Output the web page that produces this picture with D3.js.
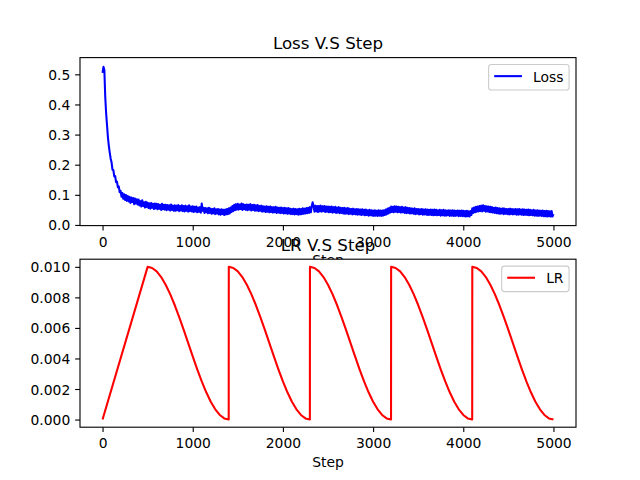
<!DOCTYPE html>
<html>
<head>
<meta charset="utf-8">
<script src="https://cdn.jsdelivr.net/npm/d3@7"></script>
<style>
  html, body { margin: 0; padding: 0; background: #fff; }
  svg { display: block; font-family: "DejaVu Sans", sans-serif; }
</style>
</head>
<body>
<svg id="chart" width="640" height="480"></svg>
<script>
// ---------------- DATA ----------------
const lossStepInterval = 10;
const lossValues = [
  0.505, 0.525, 0.515, 0.425, 0.370, 0.330, 0.290, 0.262, 0.240, 0.220,
  0.208, 0.184, 0.182, 0.161, 0.162, 0.142, 0.144, 0.125, 0.128, 0.109,
  0.113, 0.094, 0.106, 0.087, 0.102, 0.083, 0.099, 0.080, 0.096, 0.078,
  0.093, 0.073, 0.091, 0.076, 0.089, 0.069, 0.088, 0.071, 0.085, 0.068,
  0.084, 0.065, 0.079, 0.061, 0.082, 0.063, 0.075, 0.058, 0.077, 0.060,
  0.074, 0.056, 0.072, 0.054, 0.073, 0.057, 0.070, 0.053, 0.071, 0.055,
  0.070, 0.052, 0.069, 0.054, 0.067, 0.050, 0.070, 0.052, 0.067, 0.051,
  0.067, 0.049, 0.066, 0.051, 0.065, 0.048, 0.068, 0.050, 0.064, 0.047,
  0.065, 0.047, 0.064, 0.049, 0.066, 0.046, 0.063, 0.048, 0.065, 0.046,
  0.063, 0.045, 0.064, 0.047, 0.062, 0.044, 0.065, 0.046, 0.061, 0.045,
  0.062, 0.043, 0.060, 0.045, 0.061, 0.042, 0.058, 0.044, 0.059, 0.041,
  0.071, 0.047, 0.057, 0.040, 0.056, 0.042, 0.055, 0.039, 0.057, 0.040,
  0.054, 0.037, 0.053, 0.039, 0.055, 0.036, 0.052, 0.038, 0.053, 0.035,
  0.051, 0.034, 0.052, 0.036, 0.050, 0.033, 0.051, 0.035, 0.053, 0.036,
  0.055, 0.038, 0.058, 0.043, 0.063, 0.046, 0.067, 0.049, 0.069, 0.051,
  0.070, 0.051, 0.068, 0.053, 0.071, 0.050, 0.069, 0.052, 0.067, 0.050,
  0.068, 0.049, 0.067, 0.051, 0.069, 0.048, 0.066, 0.050, 0.067, 0.047,
  0.065, 0.048, 0.066, 0.046, 0.063, 0.047, 0.064, 0.044, 0.062, 0.045,
  0.061, 0.043, 0.062, 0.044, 0.060, 0.042, 0.061, 0.043, 0.059, 0.041,
  0.059, 0.042, 0.060, 0.040, 0.058, 0.041, 0.057, 0.039, 0.058, 0.040,
  0.056, 0.038, 0.057, 0.039, 0.055, 0.037, 0.056, 0.038, 0.054, 0.036,
  0.053, 0.036, 0.054, 0.035, 0.053, 0.036, 0.052, 0.034, 0.054, 0.035,
  0.053, 0.036, 0.055, 0.037, 0.054, 0.038, 0.056, 0.039, 0.057, 0.040,
  0.059, 0.042, 0.063, 0.075, 0.061, 0.044, 0.064, 0.045, 0.063, 0.043,
  0.063, 0.045, 0.064, 0.044, 0.062, 0.046, 0.063, 0.043, 0.061, 0.044,
  0.061, 0.042, 0.060, 0.043, 0.061, 0.041, 0.059, 0.042, 0.060, 0.040,
  0.058, 0.041, 0.059, 0.039, 0.057, 0.040, 0.056, 0.038, 0.057, 0.037,
  0.055, 0.038, 0.056, 0.036, 0.054, 0.037, 0.053, 0.035, 0.054, 0.036,
  0.052, 0.035, 0.053, 0.034, 0.052, 0.035, 0.051, 0.033, 0.052, 0.034,
  0.050, 0.032, 0.051, 0.033, 0.049, 0.031, 0.050, 0.032, 0.049, 0.031,
  0.048, 0.030, 0.049, 0.031, 0.047, 0.030, 0.049, 0.031, 0.048, 0.030,
  0.048, 0.031, 0.049, 0.033, 0.051, 0.035, 0.054, 0.038, 0.057, 0.041,
  0.061, 0.043, 0.060, 0.042, 0.062, 0.044, 0.061, 0.042, 0.060, 0.043,
  0.059, 0.041, 0.060, 0.042, 0.058, 0.040, 0.059, 0.039, 0.057, 0.040,
  0.056, 0.038, 0.055, 0.039, 0.054, 0.037, 0.055, 0.036, 0.053, 0.037,
  0.053, 0.035, 0.052, 0.036, 0.053, 0.034, 0.051, 0.035, 0.052, 0.034,
  0.051, 0.033, 0.050, 0.034, 0.051, 0.033, 0.050, 0.032, 0.051, 0.033,
  0.050, 0.032, 0.049, 0.033, 0.050, 0.031, 0.049, 0.032, 0.050, 0.031,
  0.049, 0.031, 0.048, 0.032, 0.049, 0.030, 0.048, 0.031, 0.049, 0.030,
  0.048, 0.030, 0.047, 0.031, 0.048, 0.029, 0.047, 0.030, 0.048, 0.029,
  0.047, 0.029, 0.046, 0.028, 0.047, 0.029, 0.045, 0.028, 0.046, 0.033,
  0.055, 0.040, 0.058, 0.042, 0.060, 0.044, 0.061, 0.045, 0.063, 0.046,
  0.064, 0.045, 0.065, 0.047, 0.063, 0.044, 0.062, 0.045, 0.061, 0.043,
  0.060, 0.042, 0.059, 0.041, 0.057, 0.040, 0.058, 0.039, 0.056, 0.038,
  0.055, 0.037, 0.054, 0.038, 0.055, 0.036, 0.054, 0.037, 0.053, 0.036,
  0.053, 0.035, 0.054, 0.036, 0.053, 0.035, 0.052, 0.036, 0.053, 0.034,
  0.052, 0.034, 0.053, 0.035, 0.051, 0.034, 0.052, 0.033, 0.051, 0.034,
  0.050, 0.033, 0.051, 0.032, 0.050, 0.033, 0.049, 0.032, 0.050, 0.031,
  0.048, 0.031, 0.049, 0.030, 0.048, 0.031, 0.047, 0.030, 0.048, 0.029,
  0.046, 0.029, 0.047, 0.028, 0.046, 0.029, 0.045, 0.028, 0.046, 0.028,
  0.036
];

// Learning rate: warmup then cosine restarts
const lrSteps = [
  0, 500, 550, 600, 650, 700, 750, 800, 850, 900, 950, 1000, 1050, 1100, 1150, 1200, 1250, 1300, 1350, 1399,
  1400, 1450, 1500, 1550, 1600, 1650, 1700, 1750, 1800, 1850, 1900, 1950, 2000, 2050, 2100, 2150, 2200, 2250, 2299,
  2300, 2350, 2400, 2450, 2500, 2550, 2600, 2650, 2700, 2750, 2800, 2850, 2900, 2950, 3000, 3050, 3100, 3150, 3199,
  3200, 3250, 3300, 3350, 3400, 3450, 3500, 3550, 3600, 3650, 3700, 3750, 3800, 3850, 3900, 3950, 4000, 4050, 4099,
  4100, 4150, 4200, 4250, 4300, 4350, 4400, 4450, 4500, 4550, 4600, 4650, 4700, 4750, 4800, 4850, 4900, 4950, 5000
];
const lrValues = [
  0.000000,
  0.010000, 0.009924, 0.009698, 0.009330, 0.008830, 0.008214, 0.007500, 0.006710, 0.005868, 0.005000, 0.004132, 0.003290, 0.002500, 0.001786, 0.001170, 0.000670, 0.000302, 0.000076, 0.000000,
  0.010000, 0.009924, 0.009698, 0.009330, 0.008830, 0.008214, 0.007500, 0.006710, 0.005868, 0.005000, 0.004132, 0.003290, 0.002500, 0.001786, 0.001170, 0.000670, 0.000302, 0.000076, 0.000000,
  0.010000, 0.009924, 0.009698, 0.009330, 0.008830, 0.008214, 0.007500, 0.006710, 0.005868, 0.005000, 0.004132, 0.003290, 0.002500, 0.001786, 0.001170, 0.000670, 0.000302, 0.000076, 0.000000,
  0.010000, 0.009924, 0.009698, 0.009330, 0.008830, 0.008214, 0.007500, 0.006710, 0.005868, 0.005000, 0.004132, 0.003290, 0.002500, 0.001786, 0.001170, 0.000670, 0.000302, 0.000076, 0.000000,
  0.010000, 0.009924, 0.009698, 0.009330, 0.008830, 0.008214, 0.007500, 0.006710, 0.005868, 0.005000, 0.004132, 0.003290, 0.002500, 0.001786, 0.001170, 0.000670, 0.000302, 0.000076, 0.000000
];

const xTicks = [0, 1000, 2000, 3000, 4000, 5000];
const lossTicks = [0.0, 0.1, 0.2, 0.3, 0.4, 0.5];
const lrTicks = [0.000, 0.002, 0.004, 0.006, 0.008, 0.010];
const titles = ["Loss V.S Step", "LR V.S Step"];
const xLabel = "Step";
const legendLabels = ["Loss", "LR"];

// ---------------- LAYOUT ----------------
const svg = d3.select("#chart");
const L = 80, R = 576;
const panels = [
  { top: 57.6, bottom: 225.6 },
  { top: 259.2, bottom: 427.2 }
];
const tickLen = 4.86, tickPad = 4.86;
const tickFont = 13.89, titleFont = 16.67;

svg.append("rect").attr("width", 640).attr("height", 480).attr("fill", "#fff");

const x = d3.scaleLinear().domain([-250, 5250]).range([L, R]);

const lossData = lossValues.map((v, i) => ({ s: i * lossStepInterval, v }));
const lrData = lrSteps.map((s, i) => ({ s, v: lrValues[i] }));

const configs = [
  { data: lossData, domain: [-0.0022, 0.5556], ticks: lossTicks, fmt: d3.format(".1f"),
    color: "#0000ff", label: legendLabels[0], title: titles[0] },
  { data: lrData, domain: [-0.0005, 0.0105], ticks: lrTicks, fmt: d3.format(".3f"),
    color: "#ff0000", label: legendLabels[1], title: titles[1] }
];

configs.forEach((cfg, pi) => {
  const p = panels[pi];
  const y = d3.scaleLinear().domain(cfg.domain).range([p.bottom, p.top]);
  const g = svg.append("g");

  g.append("rect").attr("x", L).attr("y", p.top).attr("width", R - L).attr("height", p.bottom - p.top)
    .attr("fill", "#fff");

  const cid = "clip" + pi;
  g.append("clipPath").attr("id", cid).append("rect")
    .attr("x", L).attr("y", p.top).attr("width", R - L).attr("height", p.bottom - p.top);

  const line = d3.line().x(d => x(d.s)).y(d => y(d.v));
  g.append("path").datum(cfg.data).attr("d", line)
    .attr("fill", "none").attr("stroke", cfg.color).attr("stroke-width", 2.08)
    .attr("stroke-linejoin", "round").attr("stroke-linecap", "butt")
    .attr("clip-path", `url(#${cid})`);

  const xa = g.append("g").attr("transform", `translate(0,${p.bottom})`)
    .call(d3.axisBottom(x).tickValues(xTicks).tickSize(tickLen).tickPadding(tickPad).tickFormat(d3.format("d")));
  xa.select(".domain").remove();
  xa.selectAll(".tick line").attr("stroke", "#000").attr("stroke-width", 1.11);
  xa.selectAll(".tick text").attr("fill", "#000").attr("font-size", tickFont)
    .attr("font-family", "DejaVu Sans").attr("dy", "0.82em");

  const ya = g.append("g").attr("transform", `translate(${L},0)`)
    .call(d3.axisLeft(y).tickValues(cfg.ticks).tickSize(tickLen).tickPadding(tickPad).tickFormat(cfg.fmt));
  ya.select(".domain").remove();
  ya.selectAll(".tick line").attr("stroke", "#000").attr("stroke-width", 1.11);
  ya.selectAll(".tick text").attr("fill", "#000").attr("font-size", tickFont)
    .attr("font-family", "DejaVu Sans").attr("dy", "0.36em");

  g.append("rect").attr("x", L).attr("y", p.top).attr("width", R - L).attr("height", p.bottom - p.top)
    .attr("fill", "none").attr("stroke", "#000").attr("stroke-width", 1.11);

  g.append("text").attr("x", (L + R) / 2).attr("y", p.top - 8.3)
    .attr("text-anchor", "middle").attr("font-size", titleFont).attr("fill", "#000")
    .text(cfg.title);

  g.append("text").attr("x", (L + R) / 2).attr("y", p.bottom + 39.8)
    .attr("text-anchor", "middle").attr("font-size", tickFont).attr("fill", "#000")
    .text(xLabel);

  const lg = g.append("g");
  const boxTop = p.top + 6.94, boxRight = R - 6.94;
  const pad = 5.56, handle = 27.78, hpad = 11.11;
  const boxH = 25.5;
  const txt = lg.append("text").attr("font-size", tickFont).attr("fill", "#000").text(cfg.label);
  const tw = txt.node().getComputedTextLength();
  const boxW = pad + handle + hpad + tw + pad;
  const boxLeft = boxRight - boxW;
  lg.insert("rect", "text").attr("x", boxLeft).attr("y", boxTop).attr("width", boxW).attr("height", boxH)
    .attr("rx", 2.8).attr("fill", "#fff").attr("fill-opacity", 0.8)
    .attr("stroke", "#cccccc").attr("stroke-width", 1.11);
  lg.insert("line", "text").attr("x1", boxLeft + pad).attr("x2", boxLeft + pad + handle)
    .attr("y1", boxTop + 11.6).attr("y2", boxTop + 11.6)
    .attr("stroke", cfg.color).attr("stroke-width", 2.08);
  txt.attr("x", boxLeft + pad + handle + hpad).attr("y", boxTop + 17.2);
});
</script>
</body>
</html>
